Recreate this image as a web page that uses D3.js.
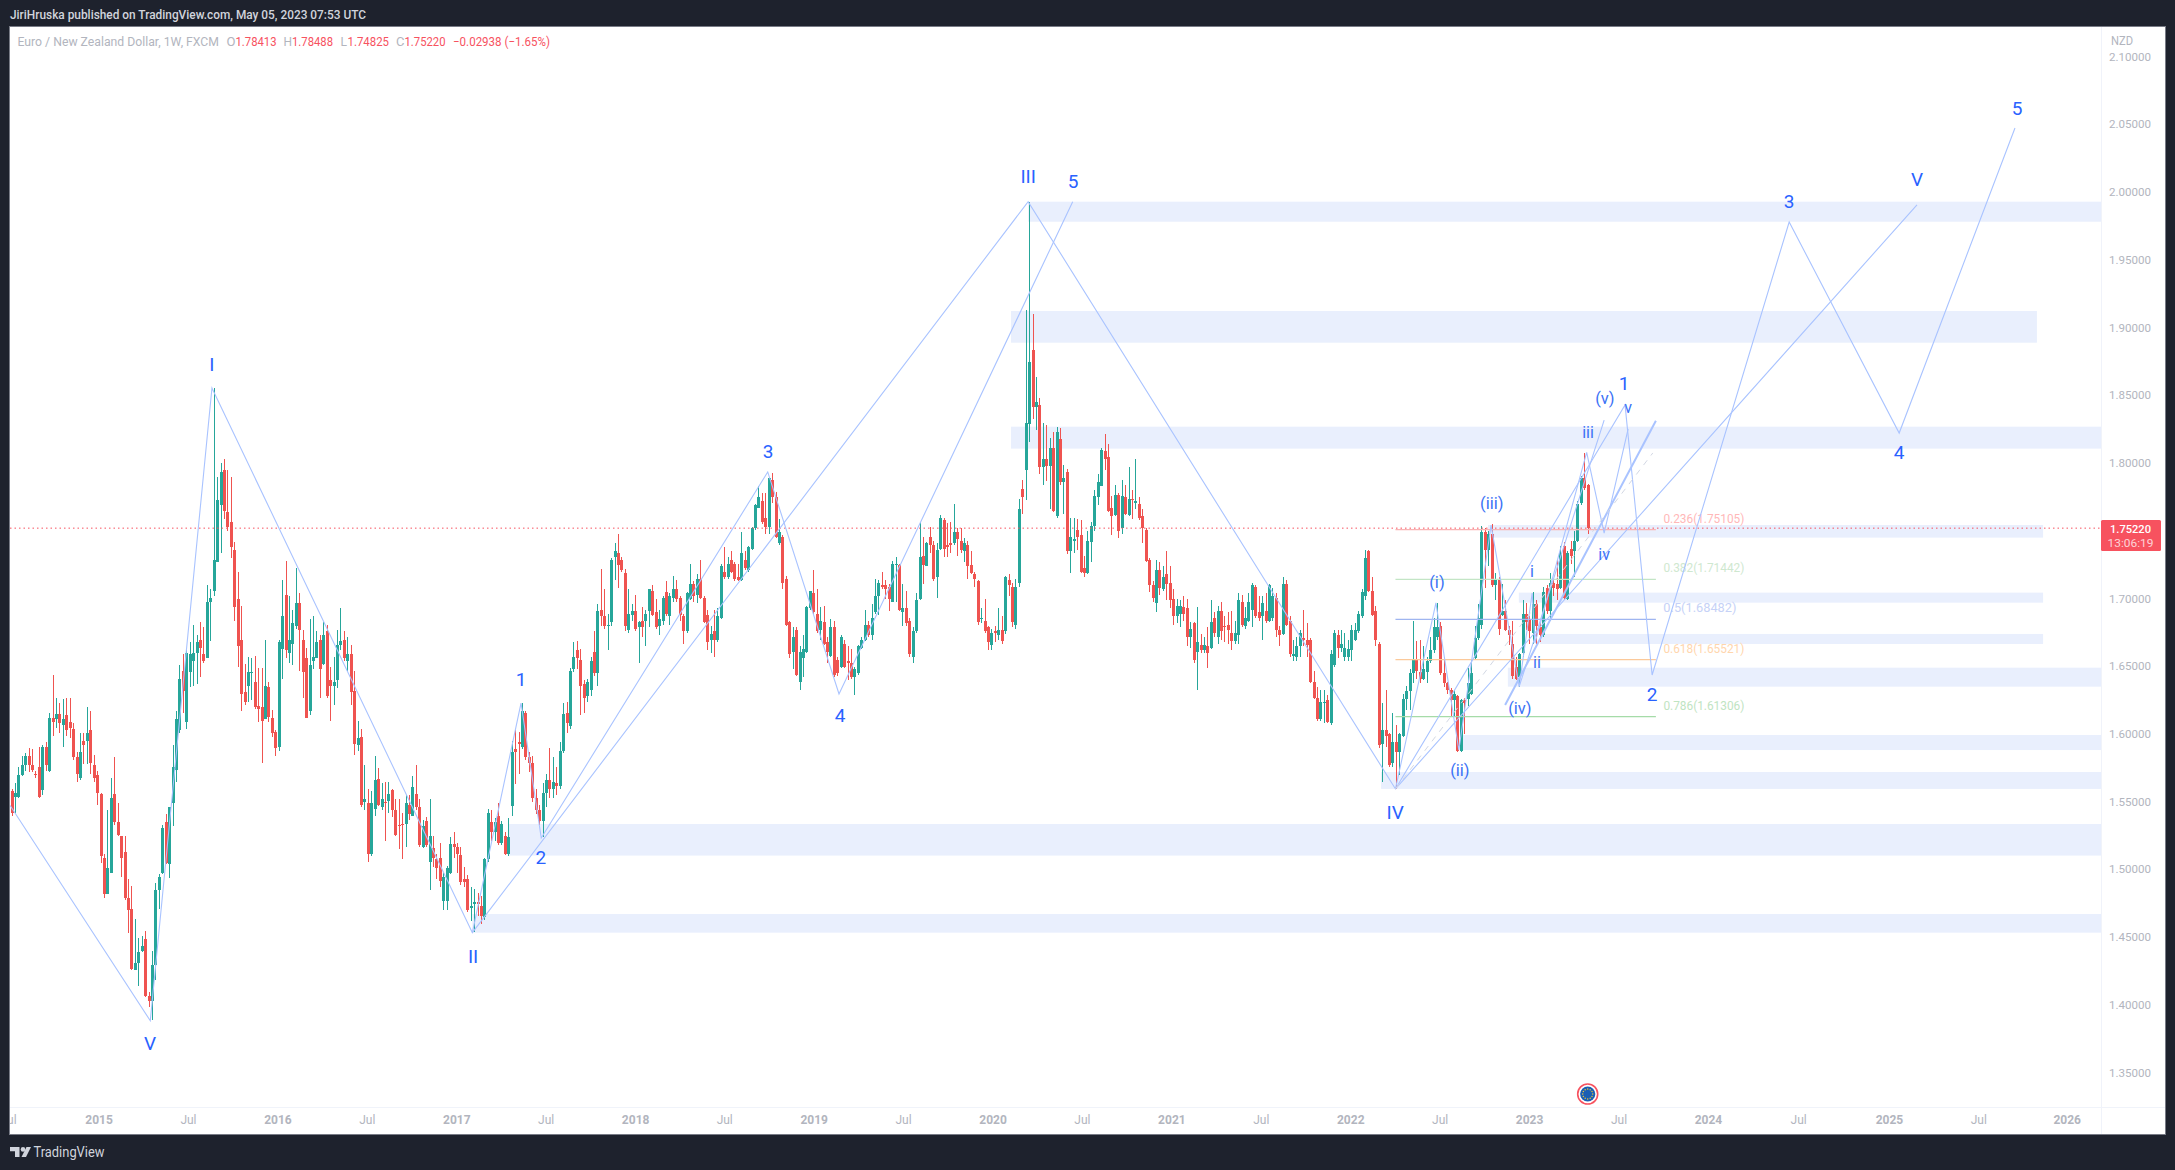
<!DOCTYPE html>
<html><head><meta charset="utf-8">
<script src="https://cdn.jsdelivr.net/npm/d3@7"></script>
<style>html,body{margin:0;padding:0;background:#1e222d;overflow:hidden}text{font-family:Roboto,sans-serif}</style>
</head><body><svg id="c" width="2175" height="1170" xmlns="http://www.w3.org/2000/svg"></svg>
<script>
// Weekly candles: [open, high, low, close]
const bars2014=[[1.558,1.560,1.540,1.542],[1.554,1.564,1.542,1.557],[1.554,1.576,1.553,1.570],[1.570,1.584,1.569,1.577],[1.577,1.586,1.573,1.584],[1.584,1.590,1.572,1.577],[1.577,1.589,1.572,1.574],[1.571,1.573,1.568,1.570],[1.576,1.591,1.553,1.554],[1.559,1.592,1.555,1.591],[1.591,1.594,1.573,1.577],[1.573,1.616,1.572,1.612],[1.612,1.644,1.599,1.609],[1.611,1.627,1.605,1.615],[1.615,1.623,1.601,1.608],[1.607,1.626,1.591,1.611],[1.614,1.627,1.599,1.603],[1.609,1.627,1.597,1.605],[1.604,1.608,1.581,1.583],[1.583,1.587,1.565,1.571],[1.568,1.601,1.566,1.587],[1.595,1.601,1.578,1.592],[1.595,1.620,1.578,1.601],[1.603,1.617,1.571,1.579],[1.577,1.585,1.565,1.568],[1.570,1.573,1.548,1.557]];
const bars2015=[[1.556,1.557,1.505,1.510],[1.509,1.512,1.479,1.482],[1.482,1.544,1.482,1.501],[1.498,1.568,1.498,1.553],[1.556,1.583,1.533,1.535],[1.535,1.549,1.525,1.526],[1.525,1.525,1.495,1.509],[1.513,1.525,1.478,1.479],[1.479,1.493,1.453,1.470],[1.471,1.488,1.426,1.427],[1.426,1.464,1.426,1.431],[1.431,1.450,1.414,1.439],[1.440,1.451,1.439,1.444],[1.449,1.455,1.406,1.407],[1.407,1.410,1.399,1.403],[1.403,1.440,1.389,1.430],[1.430,1.490,1.419,1.485],[1.485,1.497,1.471,1.495],[1.498,1.533,1.497,1.531],[1.535,1.541,1.504,1.505],[1.504,1.546,1.494,1.546],[1.549,1.592,1.532,1.576],[1.574,1.617,1.565,1.611],[1.603,1.651,1.601,1.641],[1.647,1.659,1.616,1.632],[1.609,1.662,1.604,1.660],[1.646,1.668,1.635,1.659],[1.654,1.681,1.636,1.660],[1.660,1.673,1.637,1.668],[1.670,1.683,1.642,1.664],[1.659,1.679,1.653,1.654],[1.656,1.710,1.656,1.698],[1.698,1.707,1.669,1.701],[1.706,1.856,1.702,1.729],[1.727,1.790,1.727,1.773],[1.769,1.800,1.734,1.794],[1.795,1.803,1.759,1.765],[1.764,1.795,1.750,1.753],[1.757,1.790,1.730,1.738],[1.736,1.742,1.684,1.694],[1.700,1.720,1.650,1.665],[1.670,1.695,1.617,1.630],[1.631,1.652,1.622,1.624],[1.636,1.657,1.624,1.646],[1.646,1.656,1.625,1.646],[1.639,1.658,1.619,1.620],[1.621,1.649,1.609,1.619],[1.620,1.649,1.579,1.610],[1.611,1.670,1.611,1.636],[1.635,1.639,1.609,1.613],[1.612,1.618,1.598,1.601],[1.602,1.603,1.584,1.590]];
const bars2016=[[1.591,1.670,1.588,1.668],[1.663,1.714,1.641,1.687],[1.703,1.728,1.656,1.662],[1.660,1.702,1.653,1.670],[1.667,1.692,1.651,1.682],[1.680,1.723,1.678,1.697],[1.697,1.704,1.647,1.677],[1.670,1.677,1.627,1.646],[1.656,1.664,1.612,1.612],[1.617,1.685,1.614,1.651],[1.654,1.687,1.648,1.657],[1.656,1.676,1.656,1.668],[1.670,1.673,1.627,1.648],[1.652,1.683,1.651,1.673],[1.676,1.681,1.627,1.628],[1.640,1.650,1.610,1.636],[1.636,1.657,1.622,1.639],[1.640,1.677,1.634,1.666],[1.666,1.693,1.662,1.669],[1.670,1.676,1.654,1.656],[1.654,1.672,1.647,1.659],[1.659,1.666,1.622,1.631],[1.632,1.647,1.585,1.593],[1.592,1.610,1.588,1.597],[1.598,1.604,1.546,1.548],[1.550,1.577,1.544,1.552],[1.549,1.560,1.506,1.512],[1.512,1.558,1.510,1.549],[1.545,1.584,1.540,1.566],[1.567,1.575,1.547,1.548],[1.546,1.564,1.544,1.552],[1.550,1.565,1.521,1.549],[1.551,1.565,1.542,1.556],[1.559,1.560,1.539,1.544],[1.544,1.552,1.525,1.526],[1.533,1.552,1.515,1.532],[1.534,1.542,1.508,1.533],[1.534,1.555,1.517,1.549],[1.548,1.555,1.537,1.541],[1.540,1.569,1.540,1.561],[1.556,1.577,1.544,1.546],[1.546,1.552,1.517,1.518],[1.517,1.537,1.516,1.532],[1.536,1.539,1.517,1.518],[1.506,1.552,1.485,1.525],[1.516,1.525,1.502,1.509],[1.508,1.512,1.493,1.501],[1.509,1.520,1.487,1.492],[1.477,1.498,1.470,1.495],[1.477,1.503,1.470,1.501],[1.498,1.524,1.497,1.519],[1.519,1.528,1.509,1.517]];
const bars2017=[[1.517,1.520,1.498,1.512],[1.511,1.517,1.489,1.491],[1.493,1.502,1.487,1.491],[1.493,1.496,1.469,1.470],[1.472,1.487,1.462,1.473],[1.475,1.486,1.454,1.476],[1.476,1.483,1.466,1.475],[1.473,1.481,1.460,1.466],[1.465,1.509,1.463,1.508],[1.508,1.545,1.506,1.542],[1.535,1.544,1.521,1.528],[1.528,1.538,1.521,1.535],[1.540,1.549,1.518,1.520],[1.520,1.536,1.518,1.534],[1.525,1.528,1.511,1.512],[1.512,1.538,1.510,1.524],[1.547,1.595,1.540,1.587],[1.589,1.603,1.563,1.587],[1.594,1.602,1.571,1.593],[1.591,1.623,1.589,1.617],[1.616,1.617,1.581,1.583],[1.583,1.587,1.572,1.579],[1.579,1.584,1.550,1.553],[1.553,1.560,1.541,1.544],[1.544,1.548,1.533,1.536],[1.536,1.564,1.524,1.557],[1.557,1.571,1.546,1.566],[1.566,1.590,1.553,1.560],[1.560,1.583,1.553,1.565],[1.564,1.576,1.555,1.562],[1.562,1.594,1.560,1.588],[1.588,1.623,1.586,1.615],[1.616,1.624,1.601,1.608],[1.606,1.649,1.604,1.647],[1.648,1.668,1.646,1.657],[1.662,1.669,1.648,1.656],[1.655,1.663,1.614,1.636],[1.637,1.640,1.616,1.627],[1.628,1.641,1.624,1.639],[1.633,1.657,1.628,1.654],[1.661,1.676,1.643,1.645],[1.645,1.696,1.636,1.691],[1.692,1.722,1.680,1.687],[1.687,1.707,1.678,1.680],[1.680,1.689,1.662,1.681],[1.683,1.730,1.680,1.729],[1.731,1.741,1.714,1.735],[1.734,1.748,1.708,1.725],[1.729,1.731,1.720,1.721],[1.719,1.722,1.676,1.680],[1.677,1.707,1.675,1.689],[1.688,1.696,1.684,1.691]];
const bars2018=[[1.691,1.703,1.676,1.678],[1.679,1.684,1.653,1.683],[1.684,1.694,1.672,1.679],[1.684,1.692,1.665,1.689],[1.691,1.707,1.679,1.707],[1.706,1.710,1.687,1.688],[1.690,1.700,1.678,1.679],[1.680,1.692,1.673,1.685],[1.684,1.702,1.681,1.701],[1.705,1.713,1.687,1.689],[1.687,1.704,1.681,1.702],[1.701,1.717,1.698,1.707],[1.707,1.714,1.698,1.700],[1.701,1.702,1.684,1.688],[1.687,1.689,1.667,1.676],[1.676,1.705,1.675,1.704],[1.700,1.726,1.699,1.711],[1.711,1.713,1.698,1.702],[1.703,1.718,1.697,1.715],[1.715,1.729,1.700,1.701],[1.701,1.702,1.682,1.683],[1.688,1.692,1.662,1.668],[1.670,1.680,1.660,1.674],[1.676,1.692,1.657,1.670],[1.670,1.693,1.668,1.687],[1.686,1.726,1.685,1.724],[1.720,1.738,1.715,1.716],[1.716,1.731,1.715,1.726],[1.729,1.735,1.719,1.720],[1.726,1.727,1.713,1.715],[1.716,1.726,1.713,1.714],[1.714,1.749,1.713,1.734],[1.729,1.735,1.721,1.723],[1.721,1.739,1.720,1.738],[1.737,1.753,1.736,1.752],[1.752,1.770,1.751,1.769],[1.767,1.783,1.767,1.775],[1.772,1.778,1.755,1.757],[1.760,1.778,1.748,1.753],[1.753,1.790,1.748,1.789],[1.788,1.793,1.771,1.775],[1.775,1.779,1.745,1.746],[1.741,1.759,1.740,1.749],[1.746,1.747,1.707,1.712],[1.715,1.717,1.680,1.681],[1.683,1.684,1.656,1.659],[1.661,1.679,1.648,1.672],[1.677,1.679,1.643,1.644],[1.639,1.665,1.633,1.661],[1.656,1.673,1.642,1.663],[1.661,1.695,1.660,1.694],[1.693,1.706,1.692,1.706]];
const bars2019=[[1.704,1.721,1.688,1.690],[1.689,1.707,1.675,1.676],[1.677,1.694,1.670,1.684],[1.683,1.695,1.666,1.667],[1.668,1.672,1.653,1.661],[1.658,1.685,1.657,1.679],[1.679,1.684,1.642,1.644],[1.655,1.657,1.643,1.645],[1.650,1.673,1.649,1.672],[1.667,1.670,1.649,1.650],[1.654,1.665,1.640,1.653],[1.653,1.663,1.641,1.642],[1.642,1.650,1.629,1.648],[1.645,1.666,1.644,1.665],[1.664,1.672,1.663,1.670],[1.670,1.692,1.669,1.681],[1.681,1.684,1.672,1.673],[1.673,1.696,1.670,1.686],[1.690,1.715,1.689,1.702],[1.702,1.714,1.688,1.712],[1.710,1.720,1.707,1.709],[1.710,1.714,1.700,1.707],[1.709,1.711,1.691,1.700],[1.698,1.728,1.698,1.726],[1.725,1.731,1.698,1.726],[1.725,1.726,1.691,1.692],[1.690,1.711,1.680,1.693],[1.693,1.706,1.680,1.682],[1.684,1.686,1.657,1.659],[1.657,1.679,1.653,1.676],[1.676,1.704,1.675,1.699],[1.700,1.757,1.699,1.731],[1.732,1.746,1.711,1.725],[1.724,1.742,1.724,1.741],[1.746,1.753,1.734,1.740],[1.740,1.743,1.713,1.715],[1.716,1.741,1.701,1.736],[1.737,1.762,1.736,1.760],[1.758,1.760,1.731,1.737],[1.740,1.756,1.731,1.738],[1.741,1.757,1.734,1.740],[1.741,1.770,1.740,1.749],[1.749,1.752,1.732,1.744],[1.743,1.752,1.734,1.736],[1.735,1.745,1.727,1.741],[1.740,1.743,1.715,1.724],[1.725,1.735,1.718,1.719],[1.718,1.720,1.709,1.715],[1.713,1.714,1.681,1.683],[1.685,1.693,1.682,1.686],[1.684,1.700,1.675,1.676],[1.679,1.680,1.662,1.668],[1.666,1.678,1.662,1.675]];
const bars2020=[[1.676,1.680,1.668,1.675],[1.673,1.693,1.670,1.677],[1.677,1.687,1.667,1.669],[1.676,1.717,1.674,1.716],[1.714,1.718,1.702,1.710],[1.709,1.712,1.679,1.683],[1.681,1.715,1.678,1.709],[1.712,1.774,1.709,1.766],[1.781,1.788,1.763,1.775],[1.795,1.913,1.773,1.830],[1.829,1.993,1.816,1.875],[1.884,1.910,1.833,1.842],[1.842,1.864,1.825,1.845],[1.843,1.848,1.792,1.797],[1.797,1.830,1.784,1.803],[1.803,1.828,1.787,1.798],[1.798,1.819,1.766,1.811],[1.811,1.823,1.764,1.765],[1.761,1.827,1.760,1.823],[1.818,1.826,1.784,1.786],[1.786,1.799,1.763,1.789],[1.794,1.796,1.733,1.735],[1.735,1.760,1.719,1.746],[1.743,1.760,1.734,1.744],[1.751,1.759,1.736,1.746],[1.747,1.758,1.719,1.720],[1.723,1.732,1.716,1.719],[1.719,1.750,1.718,1.743],[1.742,1.757,1.727,1.754],[1.754,1.780,1.750,1.776],[1.775,1.792,1.769,1.786],[1.783,1.811,1.783,1.810],[1.809,1.822,1.795,1.803],[1.805,1.814,1.764,1.765],[1.767,1.776,1.747,1.761],[1.762,1.784,1.761,1.777],[1.777,1.778,1.745,1.750],[1.752,1.788,1.748,1.776],[1.775,1.784,1.762,1.763],[1.762,1.797,1.761,1.774],[1.774,1.780,1.759,1.773],[1.771,1.803,1.766,1.772],[1.770,1.775,1.758,1.760],[1.761,1.766,1.741,1.752],[1.751,1.752,1.727,1.728],[1.729,1.730,1.705,1.710],[1.710,1.713,1.698,1.701],[1.697,1.729,1.690,1.721],[1.721,1.727,1.703,1.708],[1.707,1.724,1.706,1.716],[1.718,1.735,1.699,1.711],[1.712,1.724,1.693,1.699]];
const bars2021=[[1.700,1.707,1.681,1.687],[1.687,1.700,1.682,1.695],[1.689,1.699,1.679,1.695],[1.694,1.702,1.684,1.689],[1.693,1.700,1.665,1.672],[1.672,1.683,1.664,1.678],[1.682,1.683,1.653,1.655],[1.661,1.694,1.633,1.668],[1.666,1.674,1.660,1.662],[1.662,1.672,1.660,1.666],[1.665,1.679,1.649,1.660],[1.664,1.699,1.663,1.683],[1.686,1.690,1.672,1.675],[1.672,1.695,1.667,1.691],[1.691,1.698,1.670,1.676],[1.680,1.687,1.668,1.679],[1.681,1.690,1.667,1.677],[1.675,1.691,1.662,1.669],[1.669,1.684,1.667,1.675],[1.673,1.704,1.667,1.699],[1.698,1.703,1.679,1.681],[1.680,1.694,1.678,1.686],[1.684,1.704,1.683,1.698],[1.692,1.712,1.679,1.710],[1.709,1.710,1.686,1.687],[1.690,1.702,1.684,1.686],[1.687,1.702,1.670,1.697],[1.691,1.704,1.682,1.684],[1.684,1.711,1.683,1.710],[1.686,1.708,1.684,1.702],[1.701,1.704,1.672,1.677],[1.677,1.680,1.665,1.673],[1.674,1.716,1.673,1.711],[1.711,1.714,1.680,1.681],[1.684,1.687,1.657,1.659],[1.658,1.670,1.654,1.659],[1.657,1.672,1.654,1.665],[1.665,1.677,1.657,1.675],[1.671,1.692,1.665,1.670],[1.670,1.682,1.657,1.666],[1.670,1.671,1.638,1.639],[1.639,1.647,1.626,1.627],[1.627,1.635,1.610,1.611],[1.611,1.633,1.610,1.624],[1.623,1.633,1.608,1.624],[1.625,1.629,1.608,1.609],[1.608,1.662,1.607,1.659],[1.651,1.677,1.650,1.675],[1.673,1.677,1.656,1.664],[1.664,1.677,1.661,1.667],[1.657,1.675,1.654,1.664],[1.657,1.670,1.654,1.663]];
const bars2022=[[1.662,1.681,1.654,1.677],[1.670,1.682,1.669,1.677],[1.676,1.691,1.675,1.689],[1.687,1.707,1.686,1.705],[1.702,1.736,1.699,1.730],[1.735,1.736,1.705,1.706],[1.706,1.716,1.687,1.688],[1.691,1.695,1.665,1.670],[1.667,1.668,1.590,1.592],[1.593,1.623,1.565,1.603],[1.603,1.633,1.591,1.599],[1.600,1.601,1.576,1.577],[1.579,1.616,1.576,1.594],[1.594,1.607,1.560,1.587],[1.587,1.601,1.570,1.600],[1.599,1.630,1.598,1.626],[1.626,1.636,1.618,1.632],[1.632,1.648,1.618,1.645],[1.645,1.684,1.638,1.655],[1.655,1.669,1.641,1.647],[1.646,1.670,1.638,1.641],[1.641,1.665,1.640,1.648],[1.646,1.657,1.638,1.654],[1.654,1.672,1.653,1.662],[1.662,1.686,1.660,1.679],[1.672,1.697,1.670,1.679],[1.680,1.683,1.644,1.645],[1.645,1.657,1.635,1.638],[1.638,1.639,1.630,1.633],[1.633,1.634,1.613,1.625],[1.625,1.633,1.613,1.630],[1.628,1.629,1.587,1.588],[1.588,1.626,1.587,1.625],[1.625,1.627,1.600,1.623],[1.626,1.649,1.621,1.638],[1.630,1.655,1.629,1.645],[1.656,1.680,1.655,1.671],[1.671,1.696,1.670,1.686],[1.681,1.754,1.678,1.749],[1.749,1.752,1.708,1.736],[1.736,1.750,1.724,1.748],[1.748,1.755,1.709,1.710],[1.710,1.719,1.699,1.714],[1.715,1.716,1.673,1.678],[1.688,1.711,1.687,1.691],[1.691,1.699,1.676,1.677],[1.677,1.680,1.666,1.673],[1.667,1.684,1.641,1.643],[1.650,1.657,1.640,1.641],[1.642,1.660,1.635,1.659],[1.660,1.699,1.657,1.689],[1.689,1.697,1.677,1.683]];
const bars2023=[[1.685,1.687,1.667,1.676],[1.675,1.705,1.667,1.696],[1.696,1.699,1.667,1.680],[1.679,1.682,1.668,1.673],[1.673,1.709,1.672,1.705],[1.708,1.710,1.689,1.691],[1.691,1.719,1.684,1.712],[1.712,1.715,1.702,1.708],[1.711,1.729,1.699,1.707],[1.708,1.739,1.707,1.734],[1.739,1.742,1.699,1.701],[1.700,1.735,1.699,1.734],[1.737,1.743,1.726,1.732],[1.735,1.750,1.716,1.743],[1.743,1.772,1.742,1.770],[1.771,1.791,1.769,1.789],[1.789,1.808,1.780,1.782],[1.78413,1.78488,1.74825,1.75220]];

const priceTicks=[1.35,1.40,1.45,1.50,1.55,1.60,1.65,1.70,1.75,1.80,1.85,1.90,1.95,2.00,2.05,2.10];
const timeTickBars=[-1,25.4,51.5,77.6,103.7,129.8,155.9,182,208,234.1,260.2,286.3,312.4,338.5,364.6,390.7,416.8,442.9,469,495.1,521.4,547.9,574,599.8];
const timeTickLabels=["Jul","2015","Jul","2016","Jul","2017","Jul","2018","Jul","2019","Jul","2020","Jul","2021","Jul","2022","Jul","2023","Jul","2024","Jul","2025","Jul","2026"];

// Supply/demand zones: [startBar, endBar, upperPrice, lowerPrice]
const zones=[[296.7,609.8,1.9932,1.9784],[291.7,591.1,1.9125,1.8891],[291.7,609.8,1.8271,1.8109],[430.9,592.9,1.7545,1.7452],[439.9,592.9,1.7046,1.6972],[446.1,592.9,1.6741,1.6667],[436.7,609.8,1.6492,1.6352],[423.2,609.8,1.5995,1.5884],[399.7,609.8,1.5722,1.5597],[145,609.8,1.5338,1.5105],[134.5,609.8,1.4674,1.4536]];

// Elliott wave paths: [bar, price]
const waveCycle=[[-0.4,1.5475],[40.5,1.3886],[58.5,1.8557],[134.5,1.4536],[296.7,1.9932],[403.9,1.5597],[556.1,1.9908]];
const waveImpulse2017=[[134.5,1.4536],[148.7,1.6231],[154.6,1.5235],[220.7,1.7937],[241.5,1.6298],[309.7,1.9932]];
const waveMinor=[[403.9,1.5597],[415.7,1.6970],[422.4,1.5884],[431.8,1.7545],[440,1.6352],[464.8,1.8320]];
const waveMinute=[[440,1.6352],[443.8,1.7043],[444.6,1.6674],[459.7,1.8082],[464.8,1.7486],[471.8,1.8254]];
const waveProjection=[[403.9,1.5597],[470.9,1.8431],[478.8,1.6438],[518.8,1.9782],[550.9,1.8224],[584.7,2.0476]];
const channelLine=[[435.9,1.6217],[479.9,1.8315]];
const fibTrend=[[403.9,1.5597],[479,1.8077]];

// Fibonacci levels
const fibLabels=["0.236(1.75105)","0.382(1.71442)","0.5(1.68482)","0.618(1.65521)","0.786(1.61306)"];
const fibPrices=[1.75105,1.71442,1.68482,1.65521,1.61306];
const fibLineColors=["#f9b4b4","#c3e5c5","#9fb5f0","#fbc99a","#a5dba8"];
const fibTextColors=["#ffb8b8","#cfe8d0","#c6d2f7","#ffd6ad","#bfe4c2"];
const fibRange=[403.9,479.9];

// Wave labels: [text, bar, price, fontsize]
const waveLabels=[["V",40.4,1.3714,19],["I",58.5,1.8726,19],["II",134.7,1.4356,19],["III",296.7,2.0107,19],["IV",403.8,1.5419,19],["V",556.1,2.0092,19],
["1",148.7,1.6394,19],["2",154.5,1.5080,19],["3",220.8,1.8079,19],["4",241.8,1.6135,19],["5",309.8,2.0077,19],
["(i)",416,1.7117,16.5],["(ii)",422.7,1.5722,16.5],["(iii)",432,1.7700,16.5],["(iv)",440.2,1.6187,16.5],["(v)",465,1.8475,16.5],
["i",443.7,1.7191,16],["ii",445.2,1.6525,16],["iii",460.1,1.8224,16],["iv",464.8,1.7317,16],["v",471.8,1.8402,16],
["1",470.6,1.8586,19],["2",478.8,1.6283,19],["3",518.8,1.9926,19],["4",550.9,1.8073,19],["5",585.3,2.0609,19]];

const bars=[].concat(bars2014,bars2015,bars2016,bars2017,bars2018,bars2019,bars2020,bars2021,bars2022,bars2023);
const lastClose=1.75220;

const UP="#26a69a",DOWN="#ef5350",PANEL="#1e222d",AXIS="#b2b5be",LINE="#a9c3ff",BLUE="#2962ff",ZONE="#e9effd",ALERT="#f7525f";
const L=10,R=2165,T=27,B=1134,PANE_R=2101,PANE_B=1107;

const svg=d3.select("#c");
const x=d3.scaleLinear().domain([0,bars.length-1]).range([11.5,1587.7]);
const y=d3.scaleLinear().domain([1.35,2.10]).range([1073,57]);

svg.append("rect").attr("width",2175).attr("height",1170).attr("fill",PANEL);
svg.append("rect").attr("x",L-.5).attr("y",T-.5).attr("width",R-L+1).attr("height",B-T+1).attr("fill","#fff").attr("stroke","#787b86").attr("stroke-width",1);

const defs=svg.append("defs");
defs.append("clipPath").attr("id","pane").append("rect").attr("x",L).attr("y",T).attr("width",PANE_R-L).attr("height",PANE_B-T);
defs.append("clipPath").attr("id","timeclip").append("rect").attr("x",L).attr("y",PANE_B).attr("width",PANE_R-L).attr("height",B-PANE_B);
const pane=svg.append("g").attr("clip-path","url(#pane)");

// zones
pane.append("g").selectAll("rect").data(zones).join("rect")
 .attr("x",d=>x(d[0])).attr("width",d=>x(d[1])-x(d[0])).attr("y",d=>y(d[2])).attr("height",d=>y(d[3])-y(d[2])).attr("fill",ZONE);

// candles
const cg=pane.append("g").attr("shape-rendering","crispEdges");
cg.selectAll("line").data(bars).join("line")
 .attr("x1",(d,i)=>Math.round(x(i))+.5).attr("x2",(d,i)=>Math.round(x(i))+.5)
 .attr("y1",d=>y(d[1])).attr("y2",d=>y(d[2]))
 .attr("stroke",d=>d[3]>=d[0]?UP:DOWN).attr("stroke-width",1);
cg.selectAll("rect").data(bars).join("rect")
 .attr("x",(d,i)=>Math.round(x(i))-1).attr("width",3)
 .attr("y",d=>y(Math.max(d[0],d[3]))).attr("height",d=>Math.max(1,Math.abs(y(d[0])-y(d[3]))))
 .attr("fill",d=>d[3]>=d[0]?UP:DOWN);

// last price line
pane.append("line").attr("x1",L).attr("x2",PANE_R).attr("y1",y(lastClose)).attr("y2",y(lastClose))
 .attr("stroke",ALERT).attr("stroke-width",1).attr("stroke-dasharray","1.5 3");

// fib levels
const fg=pane.append("g");
fg.selectAll("line").data(fibPrices).join("line")
 .attr("x1",x(fibRange[0])).attr("x2",x(fibRange[1])).attr("y1",d=>y(d)).attr("y2",d=>y(d))
 .attr("stroke",(d,i)=>fibLineColors[i]).attr("stroke-width",1.2);
fg.selectAll("text").data(fibLabels).join("text")
 .attr("x",x(fibRange[1])+7.5).attr("y",(d,i)=>y(fibPrices[i])-7).text(d=>d)
 .attr("font-size",12).attr("fill",(d,i)=>fibTextColors[i])
 .attr("textLength",(d,i)=>d.length===14?81:73).attr("lengthAdjust","spacingAndGlyphs");

// wave lines
const line=d3.line().x(d=>x(d[0])).y(d=>y(d[1]));
const wg=pane.append("g").attr("fill","none");
wg.selectAll("path.w").data([waveCycle,waveImpulse2017,waveMinor,waveMinute,waveProjection]).join("path").attr("class","w")
 .attr("d",line).attr("stroke",LINE).attr("stroke-width",1.1);
wg.append("path").datum(channelLine).attr("d",line).attr("stroke",LINE).attr("stroke-width",2);
wg.append("path").datum(fibTrend).attr("d",line).attr("stroke","#d3d8e4").attr("stroke-width",1).attr("stroke-dasharray","6 6");

// wave labels
pane.append("g").selectAll("text").data(waveLabels).join("text")
 .attr("x",d=>x(d[1])).attr("y",d=>y(d[2])-1).attr("text-anchor","middle").attr("dominant-baseline","central")
 .attr("font-size",d=>d[3]).attr("fill",d=>d[3]===19?BLUE:"#3b72f6").text(d=>d[0]);

// EU event marker
const evX=x(bars.length-1),evY=1094;
const ev=svg.append("g");
ev.append("circle").attr("cx",evX).attr("cy",evY).attr("r",10).attr("fill","#fff").attr("stroke",ALERT).attr("stroke-width",1.6);
ev.append("circle").attr("cx",evX).attr("cy",evY).attr("r",7.6).attr("fill","#1a5fb4");
ev.selectAll("circle.s").data(d3.range(12)).join("circle").attr("class","s")
 .attr("cx",d=>evX+5*Math.cos(d*Math.PI/6)).attr("cy",d=>evY+5*Math.sin(d*Math.PI/6)).attr("r",.75).attr("fill","#e8c33a");

// axes
svg.append("line").attr("x1",PANE_R+.5).attr("x2",PANE_R+.5).attr("y1",T).attr("y2",B).attr("stroke","#f0f3fa");
svg.append("line").attr("x1",L).attr("x2",R).attr("y1",PANE_B+.5).attr("y2",PANE_B+.5).attr("stroke","#f0f3fa");

const yAxis=svg.append("g").attr("transform",`translate(${PANE_R},-0.5)`)
 .call(d3.axisRight(y).tickValues(priceTicks).tickFormat(d3.format(".5f")).tickSize(0).tickPadding(8));
yAxis.select(".domain").remove();
yAxis.selectAll("text").attr("font-size",11.5).attr("fill",AXIS).attr("font-family","Roboto").attr("textLength",42).attr("lengthAdjust","spacingAndGlyphs");

const xAxis=svg.append("g").attr("clip-path","url(#timeclip)").append("g").attr("transform",`translate(0,${PANE_B})`)
 .call(d3.axisBottom(x).tickValues(timeTickBars).tickFormat((d,i)=>timeTickLabels[i]).tickSize(0).tickPadding(8));
xAxis.select(".domain").remove();
xAxis.selectAll("text").attr("font-size",12).attr("fill",AXIS).attr("font-family","Roboto")
 .attr("font-weight",d=>timeTickLabels[timeTickBars.indexOf(d)]==="Jul"?400:700);

svg.append("text").attr("x",2111).attr("y",45).attr("font-size",12).attr("fill",AXIS).attr("textLength",22).attr("lengthAdjust","spacingAndGlyphs").text("NZD");

// price tag
svg.append("rect").attr("x",PANE_R).attr("y",520).attr("width",60).attr("height",31).attr("rx",1.5).attr("fill",ALERT);
svg.append("text").attr("x",2130.5).attr("y",532.5).attr("text-anchor","middle").attr("font-size",11.5).attr("font-weight",500).attr("fill","#fff").attr("textLength",41).attr("lengthAdjust","spacingAndGlyphs").text(d3.format(".5f")(lastClose));
svg.append("text").attr("x",2130.5).attr("y",546.5).attr("text-anchor","middle").attr("font-size",11.5).attr("fill","#fff").attr("fill-opacity",.75).attr("textLength",46).attr("lengthAdjust","spacingAndGlyphs").text("13:06:19");

// header
svg.append("text").attr("x",10).attr("y",18.5).attr("font-size",13).attr("font-weight",500).attr("fill","#d1d4dc").attr("textLength",356).attr("lengthAdjust","spacingAndGlyphs").text("JiriHruska published on TradingView.com, May 05, 2023 07:53 UTC");

// legend
const legendParts=[["Euro / New Zealand Dollar, 1W, FXCM",17.5,201.5,AXIS],["O",226.5,9,AXIS],["1.78413",235.5,41,ALERT],["H",283.5,8.5,AXIS],["1.78488",292,41,ALERT],["L",340.5,6.5,AXIS],["1.74825",347.5,41.5,ALERT],["C",396,8.5,AXIS],["1.75220",404.5,41,ALERT],["\u22120.02938 (\u22121.65%)",453,97,ALERT]];
svg.append("g").selectAll("text").data(legendParts).join("text")
 .attr("x",d=>d[1]).attr("y",46).attr("font-size",12.5).attr("fill",d=>d[3]).attr("textLength",d=>d[2]).attr("lengthAdjust","spacingAndGlyphs").text(d=>d[0]);

// logo
const logo=svg.append("g").attr("fill","#d1d4dc");
logo.append("path").attr("d","M10 1147H19.5V1157H15V1151.2H10Z");
logo.append("circle").attr("cx",23).attr("cy",1149.4).attr("r",2.3);
logo.append("path").attr("d","M26.5 1147H31L26 1157H21.5Z");
svg.append("text").attr("x",33.5).attr("y",1156.5).attr("font-size",14).attr("fill","#d1d4dc").attr("textLength",71).attr("lengthAdjust","spacingAndGlyphs").text("TradingView");
</script></body></html>
